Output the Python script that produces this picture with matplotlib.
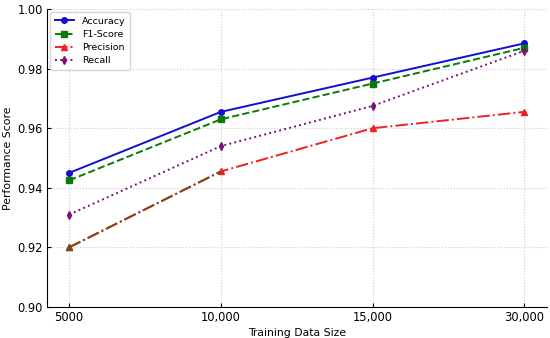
import matplotlib
matplotlib.use('Agg')
import matplotlib.pyplot as plt
import numpy as np

# data
sizes = ['5000', '10,000', '15,000', '30,000']
accuracy = [0.945, 0.9655, 0.977, 0.9885]
f1_score = [0.9425, 0.963, 0.975, 0.987]
precision = [0.920, 0.9455, 0.960, 0.9655]
recall = [0.931, 0.954, 0.9675, 0.986]

xax = np.arange(len(sizes))

fig = plt.figure(figsize=(5.5, 3.38), dpi=100)
ax = fig.add_axes([0.0855, 0.092, 0.909, 0.881])

ax.plot(xax, accuracy, marker='o', markersize=4, linestyle='-', color='#1010d0', lw=1.4, label='Accuracy')
ax.plot(xax, f1_score, marker='s', markersize=4, linestyle='--', color='#0a7a0a', lw=1.4, label='F1-Score')
ax.plot(xax, precision, marker='^', markersize=4, linestyle='-.', color='#f02020', lw=1.4, label='Precision')
# first segment of precision looks brownish in the reference
ax.plot(xax[:2], precision[:2], marker='^', markersize=4, linestyle='-.', color='#7a4a1a', lw=1.4, markevery=[0])
ax.plot(xax, recall, marker='d', markersize=4, linestyle=':', color='#7a127a', lw=1.4, label='Recall')

ax.set_xticks(xax)
ax.set_xticklabels(sizes)
ax.set_ylim(0.90, 1.00)
ax.set_yticks([0.90, 0.92, 0.94, 0.96, 0.98, 1.00])
ax.set_xlim(-0.146, 3.15)
ax.tick_params(direction='in', labelsize=8.3, length=3, pad=3)
ax.grid(True, linestyle=':', color='#cccccc', lw=0.8)
ax.spines['top'].set_visible(False)
ax.spines['right'].set_visible(False)
ax.set_xlabel('Training Data Size', fontsize=7.8, labelpad=3)
ax.set_ylabel('Performance Score', fontsize=7.8, labelpad=3)
ax.legend(loc='upper left', fontsize=6.8, frameon=True, handlelength=2.1, borderpad=0.45,
          labelspacing=0.45, borderaxespad=0.35)

fig.savefig('out.png', dpi=100)
